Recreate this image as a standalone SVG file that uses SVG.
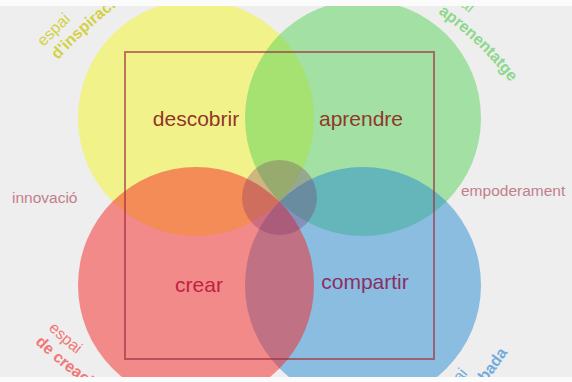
<svg xmlns="http://www.w3.org/2000/svg" width="572" height="382" viewBox="0 0 572 382">
<style>
.c{fill-opacity:.5}
.lbl{font-family:"Liberation Sans",Arial,sans-serif;font-size:21px;text-anchor:middle}
.side{font-family:"Liberation Sans",Arial,sans-serif;font-size:15.5px;fill:#c27e8c}
.arc{font-family:"Liberation Sans",Arial,sans-serif;font-size:16px}
.b{font-weight:bold}
</style>
<defs>
<path id="tl1" d="M 43.9 47.1 A 519 519 0 0 1 246 -86.7"/>
<path id="tl2" d="M 57.8 60 A 500 500 0 0 1 252.5 -68.8"/>
<path id="tr1" d="M 438.7 -9.4 A 349 349 0 0 1 550.8 108.8"/>
<path id="tr2" d="M 437.9 13 A 330 330 0 0 1 558.7 170.4"/>
<path id="bl1" d="M 48.1 329.1 A 400 400 0 0 0 256.5 435.3"/>
<path id="bl2" d="M 34.9 342.8 A 419 419 0 0 0 253.2 454"/>
<path id="br1" d="M 442.4 402.1 A 400 400 0 0 0 559.6 119.3"/>
<path id="br2" d="M 455.9 415.6 A 419 419 0 0 0 578.6 119.3"/>
</defs>
<rect width="572" height="382" fill="#eeeeee"/>
<g id="descobrir">
<circle class="c" cx="196" cy="118" r="118" fill="#f6f626"/>
<text class="lbl" x="196" y="126" fill="#93352a">descobrir</text>
<text class="arc" fill="#d2d244"><textPath href="#tl1">espai</textPath></text>
<text class="arc b" fill="#d2d244"><textPath href="#tl2">d'inspiració</textPath></text>
</g>
<g id="aprendre">
<circle class="c" cx="363" cy="118" r="118" fill="#58d258"/>
<text class="lbl" x="361" y="126" fill="#8e3a2a">aprendre</text>
<text class="arc" fill="#8cd88c"><textPath href="#tr1">espai</textPath></text>
<text class="arc b" fill="#8cd88c"><textPath href="#tr2">aprenentatge</textPath></text>
</g>
<g id="compartir">
<circle class="c" cx="363" cy="285" r="118" fill="#268cd2"/>
<text class="lbl" x="365" y="289" fill="#8a2f66">compartir</text>
<text class="arc" fill="#72acdc"><textPath href="#br1">espai</textPath></text>
<text class="arc b" fill="#72acdc"><textPath href="#br2">de trobada</textPath></text>
</g>
<g id="crear">
<circle class="c" cx="196" cy="285" r="118" fill="#f62626"/>
<text class="lbl" x="199" y="292" fill="#c0223e">crear</text>
<text class="arc" fill="#f07878"><textPath href="#bl1">espai</textPath></text>
<text class="arc b" fill="#f07878"><textPath href="#bl2">de creació</textPath></text>
</g>
<g id="center">
<circle cx="279.5" cy="197.5" r="37.5" fill="#7a2a66" fill-opacity=".3"/>
</g>
<g id="frame">
<rect x="125" y="52" width="309" height="307" fill="none" stroke="#a03040" stroke-opacity=".65" stroke-width="2"/>
</g>
<g id="innovacio"><text class="side" x="12" y="203">innovació</text></g>
<g id="empoderament"><text class="side" x="461" y="196">empoderament</text></g>
<g id="connectors"></g>
<rect x="0" y="0" width="572" height="6" fill="#fbfbfb"/>
<rect x="0" y="377" width="572" height="5" fill="#fbfbfb"/>
</svg>
